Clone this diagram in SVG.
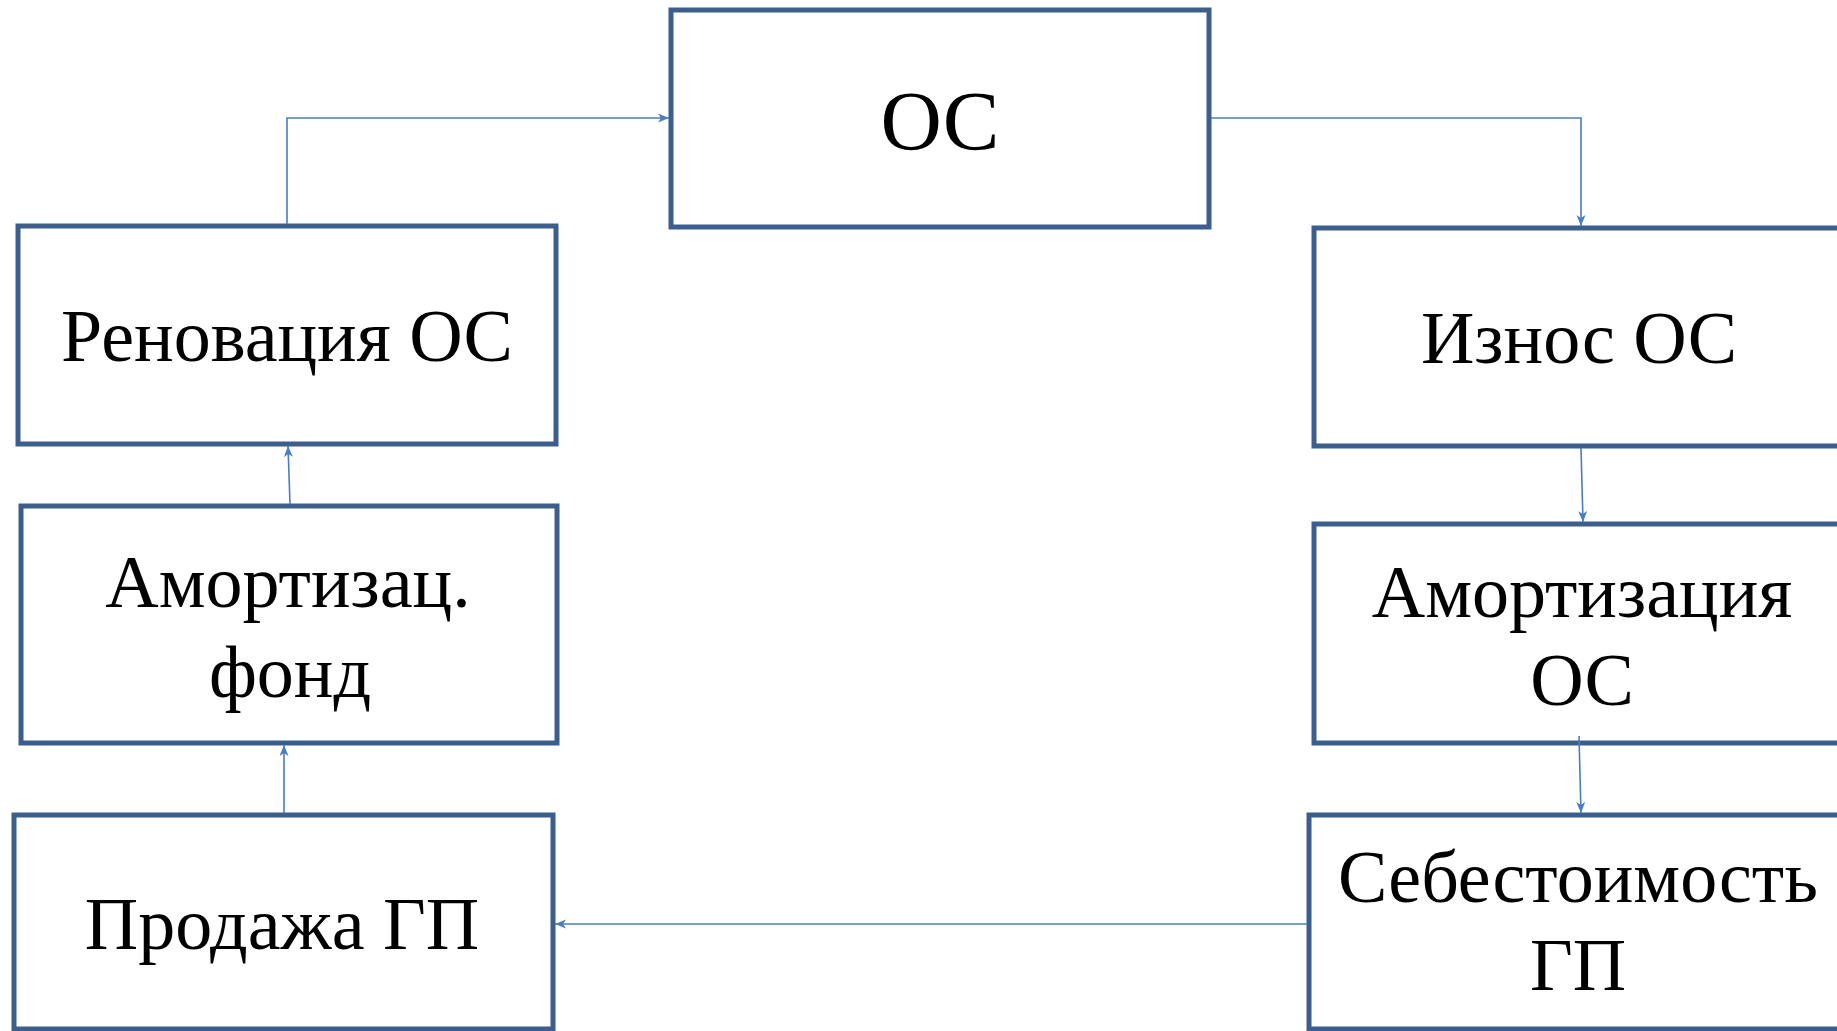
<svg xmlns="http://www.w3.org/2000/svg" width="1837" height="1031" viewBox="0 0 1837 1031">
<style>
.box{fill:#ffffff;stroke:#3B5E8C;stroke-width:5;stroke-linejoin:miter}
.t{font-family:"Liberation Serif","Times New Roman",serif;font-size:74px;fill:#000000;text-anchor:middle}
.c{fill:none;stroke:#4A7EBB;stroke-width:1.6}
</style>
<defs>
<marker id="ah" markerUnits="userSpaceOnUse" markerWidth="12" markerHeight="10" refX="11" refY="4.5" orient="auto">
<path d="M0,0 L11,4.5 L0,9 L3,4.5 z" fill="#4A7EBB"/>
</marker>
</defs>
<rect width="1837" height="1031" fill="#ffffff"/>
<g id="node-os">
<rect class="box" x="671" y="10" width="538" height="217"/>
<text class="t" x="940" y="150" style="font-size:85px">ОС</text>
</g>
<g id="node-renovation">
<rect class="box" x="18" y="226" width="538" height="218"/>
<text class="t" x="287" y="361">Реновация ОС</text>
</g>
<g id="node-iznos">
<rect class="box" x="1314" y="228" width="532" height="218"/>
<text class="t" x="1579" y="363">Износ ОС</text>
</g>
<g id="node-fond">
<rect class="box" x="21" y="506" width="536" height="237"/>
<text class="t" x="288" y="607">Амортизац.</text>
<text class="t" x="290" y="697">фонд</text>
</g>
<g id="node-amort">
<rect class="box" x="1314" y="524" width="532" height="219"/>
<text class="t" x="1582" y="617">Амортизация</text>
<text class="t" x="1582" y="705">ОС</text>
</g>
<g id="node-prodazha">
<rect class="box" x="14" y="815" width="539" height="214"/>
<text class="t" x="282" y="949">Продажа ГП</text>
</g>
<g id="node-sebest">
<rect class="box" x="1309" y="815" width="537" height="214"/>
<text class="t" x="1578" y="902">Себестоимость</text>
<text class="t" x="1578" y="990">ГП</text>
</g>
<g id="connectors">
<path class="c" d="M287,224 V118 H669" marker-end="url(#ah)"/>
<path class="c" d="M1211,118 H1581 V226" marker-end="url(#ah)"/>
<path class="c" d="M1581,448 L1583,522" marker-end="url(#ah)"/>
<path class="c" d="M1579,736 L1581,813" marker-end="url(#ah)"/>
<path class="c" d="M1307,924 H555" marker-end="url(#ah)"/>
<path class="c" d="M284,813 V745" marker-end="url(#ah)"/>
<path class="c" d="M290,504 L288,446" marker-end="url(#ah)"/>
</g>
</svg>
